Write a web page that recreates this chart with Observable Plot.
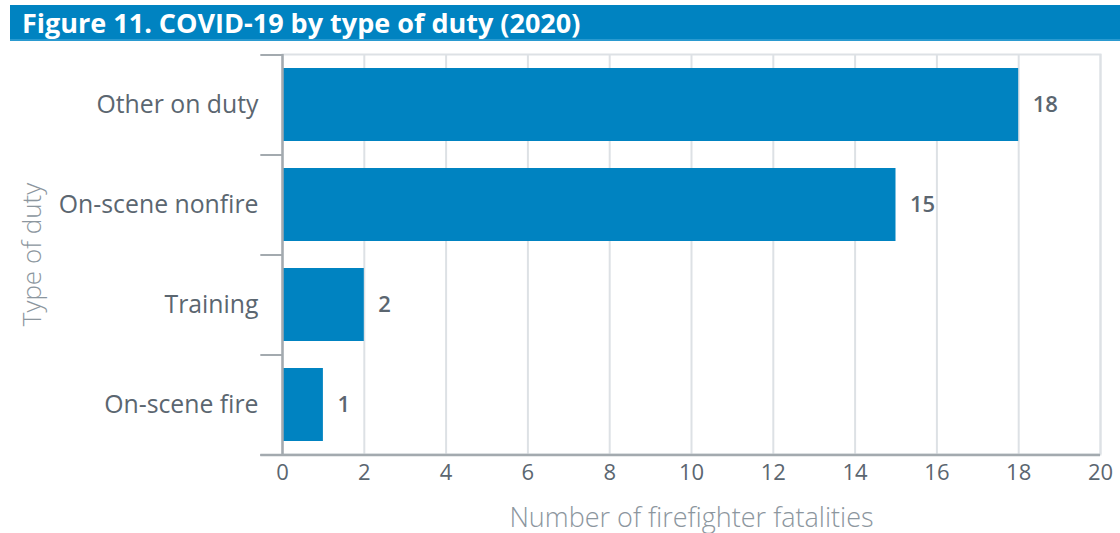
<!DOCTYPE html>
<html>
<head>
<meta charset="utf-8">
<script src="https://cdn.jsdelivr.net/npm/d3@7"></script>
<script src="https://cdn.jsdelivr.net/npm/@observablehq/plot@0.6"></script>
<style>
  html, body { margin: 0; padding: 0; background: #fff; }
  #wrap { position: relative; width: 1120px; height: 533px; overflow: hidden; font-family: "Open Sans", sans-serif; }
  #title { position: absolute; left: 10px; top: 5px; width: 1110px; height: 36px; background: #0083c1; border-bottom: 2px solid #2a9ad0;
    color: #fff; font-weight: 700; font-size: 27px; line-height: 36px; padding-left: 12px; box-sizing: border-box; letter-spacing: 0px; }
  #chart { position: absolute; left: 0; top: 44px; }
</style>
</head>
<body>
<div id="wrap">
  <div id="title">Figure 11. COVID-19 by type of duty (2020)</div>
  <div id="chart"></div>
</div>
<script>
const categories = ["Other on duty", "On-scene nonfire", "Training", "On-scene fire"];
const values = [18, 15, 2, 1];
const xTicks = [0, 2, 4, 6, 8, 10, 12, 14, 16, 18, 20];
const xLabel = "Number of firefighter fatalities";
const yLabel = "Type of duty";

const data = categories.map((c, i) => ({duty: c, value: values[i]}));

const tickColor = "#5b6670";
const axisTitleColor = "#8c969e";
const gridColor = "#dde1e5";
const axisColor = "#a3aaaf";

const chart = Plot.plot({
  width: 1120,
  height: 489,
  marginTop: 10,
  marginBottom: 79,
  marginLeft: 282,
  marginRight: 20,
  style: {fontFamily: "'Open Sans', sans-serif", background: "transparent", overflow: "visible"},
  x: {domain: [0, 20]},
  y: {domain: categories, paddingInner: 0.27, paddingOuter: 0.135},
  marks: [
    Plot.frame({stroke: gridColor, strokeWidth: 2}),
    Plot.ruleX(xTicks.slice(1), {stroke: gridColor, strokeWidth: 2}),
    Plot.barX(data, {x: "value", y: "duty", fill: "#0083c1"}),
    Plot.text(data, {x: "value", y: "duty", text: d => String(d.value), textAnchor: "start", dx: 14,
      fill: tickColor, fontWeight: 600, fontSize: 22}),
    Plot.ruleY(categories, {y: d => d, dy: 50, x1: -0.53, x2: 0, stroke: axisColor, strokeWidth: 2, clip: false}),
    Plot.ruleY([categories[0]], {y: d => d, dy: -50, x1: -0.53, x2: 0, stroke: axisColor, strokeWidth: 2}),
    Plot.ruleY([categories[3]], {y: d => d, dy: 50, x1: -0.53, x2: 20, stroke: axisColor, strokeWidth: 2.5}),
    Plot.ruleX([0], {stroke: axisColor, strokeWidth: 2.5}),
    Plot.axisX({ticks: xTicks, tickSize: 0, tickPadding: 10, fontSize: 22, color: tickColor, label: null}),
    Plot.axisY({tickSize: 0, tickPadding: 24, fontSize: 24.8, color: tickColor, label: null}),
    Plot.text([xLabel], {frameAnchor: "bottom", dy: 72, text: d => d, fontSize: 27, fontWeight: 300, fill: axisTitleColor}),
    Plot.text([yLabel], {frameAnchor: "left", textAnchor: "middle", dx: -250, rotate: -90, text: d => d, fontSize: 26, fontWeight: 300, fill: axisTitleColor})
  ]
});
document.getElementById("chart").appendChild(chart);
</script>
</body>
</html>
